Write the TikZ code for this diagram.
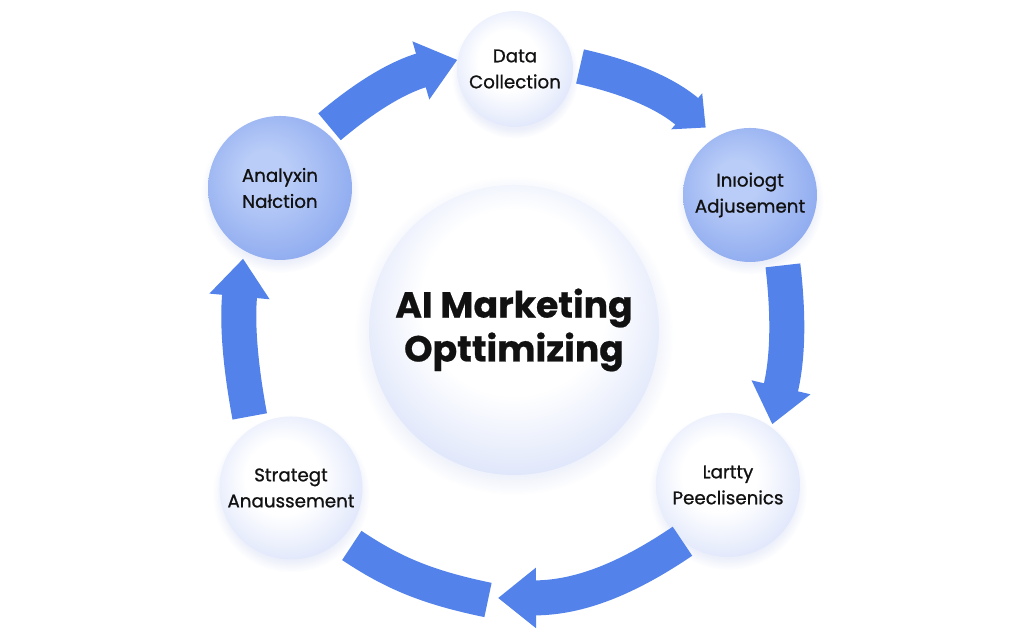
\documentclass[tikz,border=0pt]{standalone}
\usepackage{fontspec}
\setmainfont{Poppins}
\newfontfamily\labelfont{Poppins}[FakeBold=0.9]
\newfontfamily\hubfont{Poppins}[UprightFont=* Bold,FakeBold=0.6]
\usetikzlibrary{positioning,shadows,arrows.meta}

\definecolor{flowblue}{HTML}{5282EA}
\definecolor{rimwhite}{HTML}{DFE6FB}
\definecolor{rimhub}{HTML}{D6DFF9}
\definecolor{bluelight}{HTML}{BACDF8}
\definecolor{bluedeep}{HTML}{8CA9EF}
\definecolor{shadowblue}{HTML}{A9B8E6}
\definecolor{ink}{HTML}{111111}

\pgfdeclareradialshading{whitebubble}{\pgfpoint{-4bp}{5bp}}{color(0bp)=(white); color(13bp)=(white); color(29bp)=(rimwhite); color(50bp)=(rimwhite)}
\pgfdeclareradialshading{bluebubble}{\pgfpoint{-6bp}{6bp}}{color(0bp)=(bluelight); color(8bp)=(bluelight); color(31bp)=(bluedeep); color(50bp)=(bluedeep)}
\pgfdeclareradialshading{hubbubble}{\pgfpoint{0bp}{7bp}}{color(0bp)=(white); color(16bp)=(white); color(32bp)=(rimhub); color(50bp)=(rimhub)}

\begin{document}
\begin{tikzpicture}[
  bubble/.style={circle,inner sep=0pt,align=center,text=ink,
    font=\labelfont\fontsize{10.4}{14.8}\selectfont,
    circular drop shadow={shadow xshift=0pt,shadow yshift=-3pt,opacity=0.22,fill=shadowblue}},
  plain/.style={bubble,shading=whitebubble},
  tinted/.style={bubble,shading=bluebubble},
  flow/.style={draw=flowblue,line width=0.7cm,-{Triangle[width=1.16cm,length=0.76cm]}}
]
\useasboundingbox (0,0) rectangle (20.48,12.8);

% hub in the middle
\node[bubble,shading=hubbubble,minimum size=5.8cm,
  font=\hubfont\fontsize{20.6}{25}\selectfont] (hub) at (10.28,6.2) {AI Marketing\\Opttimizing};

% the five stages round the hub
\node[plain,minimum size=2.32cm] (dc) at (10.3,11.42) {Data\\Collection};
\node[tinted,minimum size=2.88cm] (an) at (5.6,9.04) {Analyxin\\Nałction};
\node[tinted,minimum size=2.68cm] (ia) at (15.0,8.9) {Inıoiogt\\Adjusement};
\node[plain,minimum size=2.88cm] (cp) at (14.56,3.1) {Ŀartty\\Peeclisenics};
\node[plain,minimum size=2.86cm] (sa) at (5.82,3.04) {Strategt\\Anaussement};

\coordinate (gapR) at (9.96,0.84);
\coordinate (gapL) at (9.76,0.8);

% curved arrows, clockwise
\foreach \a/\b/\bend/\sa/\sb in {an.52/dc.171/12/0.13/0, ia.-62/cp.53/10/0.22/0.06,
    cp.-129/gapR/17/0/0, sa.123/an.-120/8/0.23/0.16}
  \draw[flow,shorten <=\sa cm,shorten >=\sb cm] (\a) to[bend left=\bend] (\b);

\draw[flow,-{Triangle[width=0.92cm,length=0.5cm]},shorten <=0.14cm,shorten >=0.28cm]
  (dc.4) to[bend left=14] (ia.120);
\draw[flow,-,shorten >=0.24cm] (gapL) to[bend left=11] (sa.-45);

\end{tikzpicture}
\end{document}
